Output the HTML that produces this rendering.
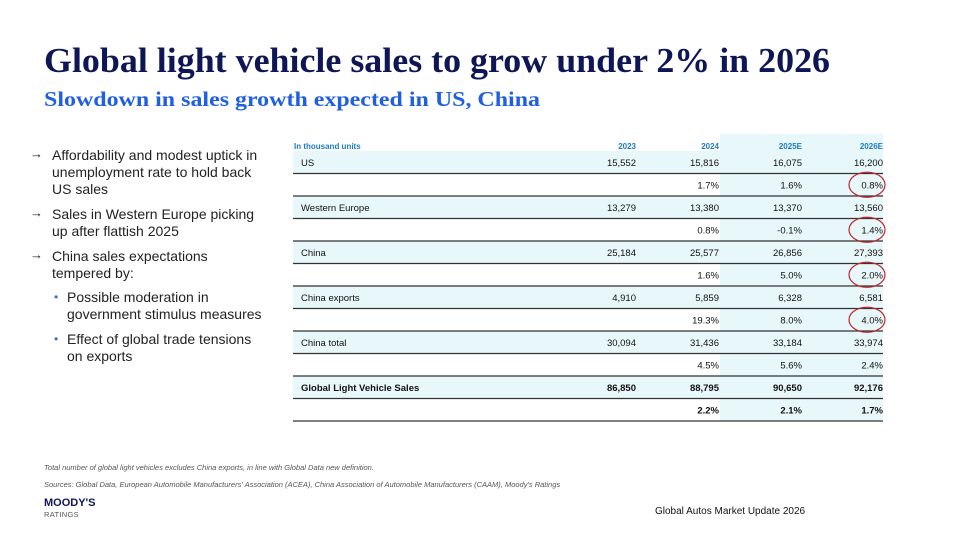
<!DOCTYPE html>
<html><head><meta charset="utf-8"><style>
body{margin:0;background:#fff;}
#page{position:relative;width:960px;height:540px;overflow:hidden;background:#fff;font-family:"Liberation Sans",Arial,sans-serif;}
.abs{position:absolute;}
.bul{position:absolute;left:52px;font-size:14px;line-height:17px;color:#222;width:212px;}
.arr{position:absolute;left:30px;font-size:13px;color:#222;}
.sub{position:absolute;left:67px;font-size:14px;line-height:17px;color:#222;width:200px;}
.dot{position:absolute;left:54px;font-size:12px;color:#3a6fc4;}
</style></head><body>
<div id="page">
<svg class="abs" style="left:0;top:0" width="960" height="120">
<text x="44" y="72" font-family="Liberation Serif,serif" font-weight="bold" font-size="35" fill="#0f1656" textLength="786" lengthAdjust="spacingAndGlyphs">Global light vehicle sales to grow under 2% in 2026</text>
<text x="44" y="106" font-family="Liberation Serif,serif" font-weight="bold" font-size="21" fill="#1f5fe0" textLength="496" lengthAdjust="spacingAndGlyphs">Slowdown in sales growth expected in US, China</text>
</svg>

<div>
<div class="arr" style="top:146px">→</div>
<div class="bul" style="top:147px">Affordability and modest uptick in unemployment rate to hold back US sales</div>
<div class="arr" style="top:205px">→</div>
<div class="bul" style="top:206px">Sales in Western Europe picking up after flattish 2025</div>
<div class="arr" style="top:247px">→</div>
<div class="bul" style="top:248px">China sales expectations<br>tempered by:</div>
<div class="dot" style="top:290px">•</div>
<div class="sub" style="top:289px">Possible moderation in government stimulus measures</div>
<div class="dot" style="top:332px">•</div>
<div class="sub" style="top:331px">Effect of global trade tensions<br>on exports</div>
</div>

<svg id="tbl" class="abs" style="left:0;top:0" width="960" height="440"></svg>

<div class="abs" style="left:44px;top:463px;font-size:7.5px;font-style:italic;color:#555">Total number of global light vehicles excludes China exports, in line with Global Data new definition.</div>
<div class="abs" style="left:44px;top:480px;font-size:7.5px;font-style:italic;color:#555">Sources: Global Data, European Automobile Manufacturers' Association (ACEA), China Association of Automobile Manufacturers (CAAM), Moody's Ratings</div>
<div class="abs" style="left:44px;top:497px;font-size:11px;font-weight:bold;color:#0f1656">MOODY'S</div>
<div class="abs" style="left:44px;top:510px;font-size:7.5px;color:#555;letter-spacing:0.3px">RATINGS</div>
<div class="abs" style="left:655px;top:506px;font-size:10px;color:#111">Global Autos Market Update 2026</div>
</div>
<script>
const years=["2023","2024","2025E","2026E"];
const rowLabels=["US","","Western Europe","","China","","China exports","","China total","","Global Light Vehicle Sales",""];
const rowValues=[
["15,552","15,816","16,075","16,200"],["","1.7%","1.6%","0.8%"],
["13,279","13,380","13,370","13,560"],["","0.8%","-0.1%","1.4%"],
["25,184","25,577","26,856","27,393"],["","1.6%","5.0%","2.0%"],
["4,910","5,859","6,328","6,581"],["","19.3%","8.0%","4.0%"],
["30,094","31,436","33,184","33,974"],["","4.5%","5.6%","2.4%"],
["86,850","88,795","90,650","92,176"],["","2.2%","2.1%","1.7%"]];
const circledRows=[1,3,5,7];
const svg=document.getElementById('tbl');const NS="http://www.w3.org/2000/svg";
const L=293,R=883,top0=151,rh=22.5,colRight=[636,719,802,883];
function mk(t,a){const e=document.createElementNS(NS,t);for(const k in a)e.setAttribute(k,a[k]);svg.appendChild(e);return e;}
let e=mk('rect',{x:720,y:134,width:R-720,height:top0+rh*12-134,fill:'#e8f7f9'});

rowLabels.forEach((lab,i)=>{if(i%2===0){let r=mk('rect',{x:L,y:top0+i*rh,width:R-L,height:rh,fill:'#e8f7f9'});
}});
let h=mk('text',{x:L+1,y:149,'font-size':8,'font-weight':'bold',fill:'#1a7bc4'});h.textContent='In thousand units';

years.forEach((y,j)=>{let t=mk('text',{x:colRight[j],y:149,'font-size':8,'font-weight':'bold',fill:'#1a7bc4','text-anchor':'end'});t.textContent=y;
});
rowLabels.forEach((lab,i)=>{const bold=i>=10;const cy=top0+i*rh+rh/2+3.5;
let ln=mk('line',{x1:L,x2:R,y1:top0+(i+1)*rh,y2:top0+(i+1)*rh,stroke:'#333','stroke-width':1.2});

if(lab){let t=mk('text',{x:L+8,y:cy,'font-size':9.5,'font-weight':bold?'bold':'normal',fill:'#111'});t.textContent=lab;
}
rowValues[i].forEach((v,j)=>{if(!v)return;let t=mk('text',{x:colRight[j],y:cy,'font-size':9.5,'font-weight':bold?'bold':'normal',fill:'#111','text-anchor':'end'});t.textContent=v;
});
if(circledRows.includes(i)){let c=mk('ellipse',{cx:867,cy:top0+i*rh+rh/2,rx:18,ry:12.5,fill:'none',stroke:'#c0262b','stroke-width':1.2});
}
});
</script>
</body></html>
